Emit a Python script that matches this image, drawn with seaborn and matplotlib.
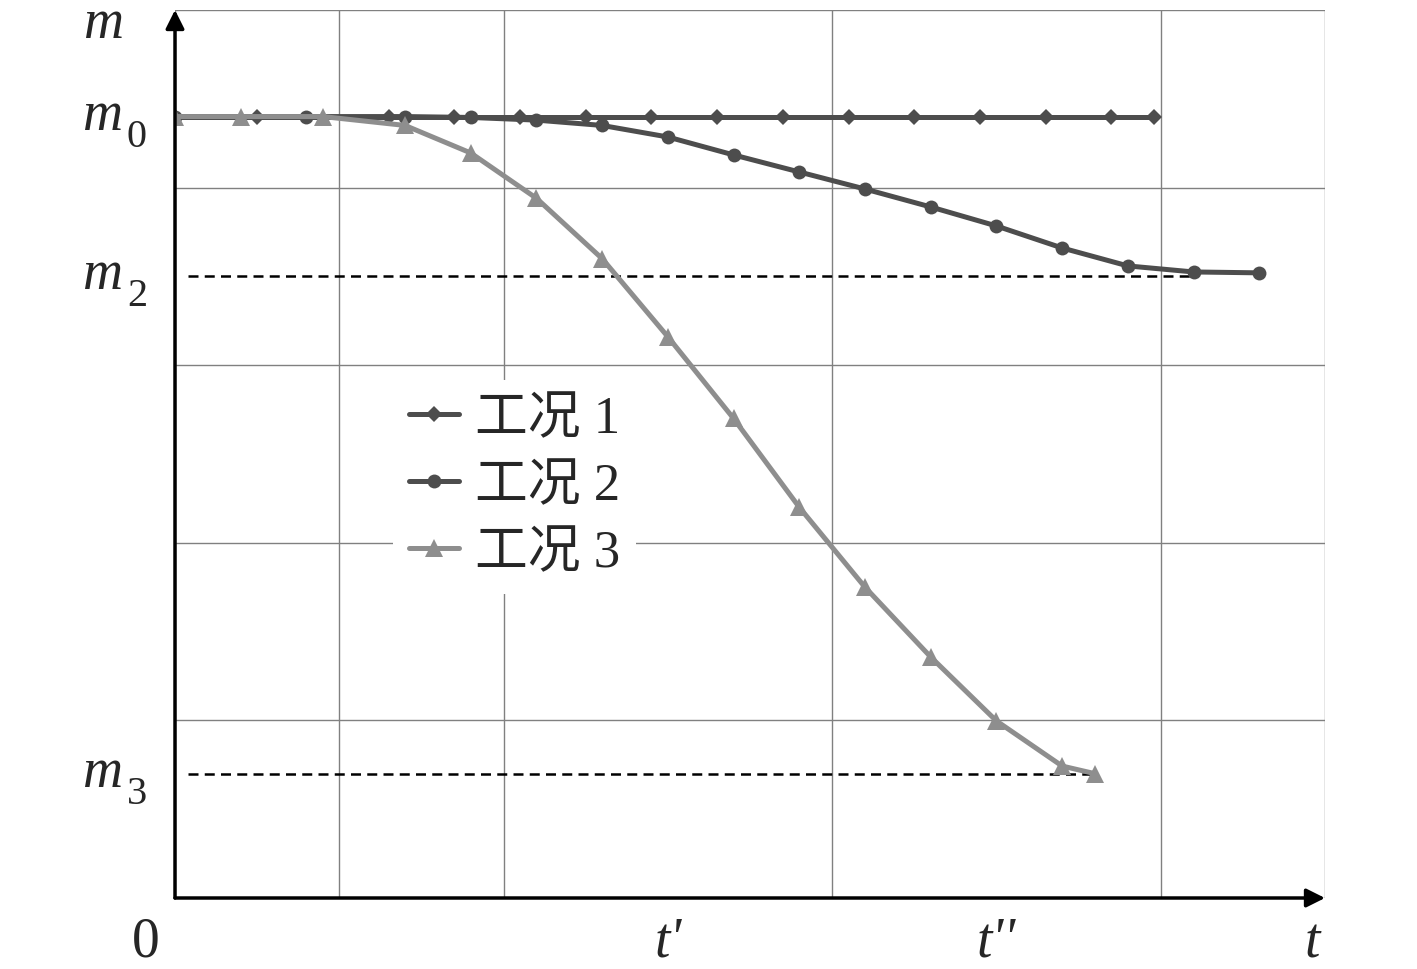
import matplotlib
matplotlib.use("Agg")
import matplotlib.pyplot as plt
import matplotlib.transforms as mtransforms
import seaborn as sns
import numpy as np

sns.set_theme(style="white")
plt.rcParams['font.family'] = ['Liberation Serif', 'Noto Sans CJK SC', 'DejaVu Sans']

# ---- data ----
labels = ["工况 1", "工况 2", "工况 3"]
x1 = [0, 0.5, 1.3, 1.7, 2.1, 2.5, 2.9, 3.3, 3.7, 4.1, 4.5, 4.9, 5.3, 5.7, 5.96]
y1 = [4.4] * len(x1)
x2 = [0, 0.8, 1.4, 1.8, 2.2, 2.6, 3.0, 3.4, 3.8, 4.2, 4.6, 5.0, 5.4, 5.8, 6.2, 6.6]
y2 = [4.4, 4.4, 4.4, 4.395, 4.38, 4.35, 4.285, 4.184, 4.088, 3.992, 3.891, 3.784, 3.66, 3.559, 3.525, 3.52]
x3 = [0, 0.4, 0.9, 1.4, 1.8, 2.2, 2.6, 3.0, 3.4, 3.8, 4.2, 4.6, 5.0, 5.4, 5.6]
y3 = [4.4, 4.4, 4.4, 4.35, 4.195, 3.94, 3.60, 3.16, 2.70, 2.20, 1.75, 1.357, 0.997, 0.743, 0.7]
m_levels = [4.4, 3.5, 0.7]
m_subs = ["0", "2", "3"]
dash_levels = [3.5, 0.7]
dash_ends = [6.2, 5.6]
t_ticks = [3, 5]
t_labels = ["t'", "t''"]

fig = plt.figure(figsize=(14.17, 9.69), dpi=100)
ax = fig.add_axes([175/1417, 71/969, 1150/1417, 888/969])

dark = "#4d4d4d"
light = "#8e8e8e"
sns.lineplot(x=x1, y=y1, ax=ax, color=dark, lw=3.6, marker="D", markersize=8.5,
             markeredgewidth=0, label=labels[0], zorder=3)
sns.lineplot(x=x2, y=y2, ax=ax, color=dark, lw=3.6, marker="o", markersize=10,
             markeredgewidth=0, label=labels[1], zorder=4)
sns.lineplot(x=x3, y=y3, ax=ax, color=light, lw=3.6, marker="^", markersize=13,
             markeredgewidth=0, label=labels[2], zorder=5)

for lvl, xe in zip(dash_levels, dash_ends):
    ax.hlines(lvl, 0.08, xe, colors="black", linestyles=(0, (4, 2.5)), lw=1.8, zorder=2)

ax.set_xlim(0, 7)
ax.set_ylim(0, 5)
ax.set_xticks(np.arange(0, 8), minor=True)
ax.set_yticks(np.arange(0, 6), minor=True)
ax.grid(which="minor", color="#808080", lw=1.0)
ax.grid(which="major", visible=False)
for t in ax.xaxis.get_minor_ticks() + ax.yaxis.get_minor_ticks():
    t.gridline.set_clip_on(False)
ax.set_yticks([])
ax.set_xticks(t_ticks)
ax.set_xticklabels(t_labels, fontsize=40, style="italic")
ax.tick_params(axis="both", which="both", length=0)
ax.tick_params(axis="x", pad=13)
for s in ax.spines.values():
    s.set_visible(False)

# y labels m_0, m_2, m_3 (italic m with lowered upright subscript)
ytr = ax.get_yaxis_transform()
for lvl, sub in zip(m_levels, m_subs):
    tr_m = mtransforms.offset_copy(ytr, fig=fig, x=0, y=-13, units="dots")
    ax.text(-52/1150, lvl, "m", fontsize=40, style="italic", ha="right", va="baseline",
            transform=tr_m, clip_on=False)
    tr_s = mtransforms.offset_copy(ytr, fig=fig, x=0, y=-30, units="dots")
    ax.text(-48/1150, lvl, sub, fontsize=29, ha="left", va="baseline",
            transform=tr_s, clip_on=False)

# axes arrows
ax.annotate("", xy=(0, 5), xytext=(0, 0), xycoords="data",
            arrowprops=dict(arrowstyle="-|>", lw=2.5, color="black", mutation_scale=28,
                            shrinkA=0, shrinkB=0), annotation_clip=False, zorder=6)
ax.annotate("", xy=(7, 0), xytext=(0, 0), xycoords="data",
            arrowprops=dict(arrowstyle="-|>", lw=2.5, color="black", mutation_scale=28,
                            shrinkA=0, shrinkB=0), annotation_clip=False, zorder=6)

ax.text(-0.43, 4.842, "m", fontsize=40, style="italic", ha="center", va="baseline", clip_on=False)
ax.text(-0.18, -0.25, "0", fontsize=40, ha="center", va="center", clip_on=False)
ax.text(6.92, -0.255, "t", fontsize=40, style="italic", ha="center", va="center", clip_on=False)

leg = ax.legend(loc="upper left", bbox_to_anchor=(0.167, 0.613), fontsize=38,
                frameon=True, facecolor="white", edgecolor="none", framealpha=1,
                handlelength=0.95, handletextpad=0.3, labelspacing=0.36,
                borderpad=0.3, fancybox=False)
leg.set_zorder(7)

fig.savefig("out.png", dpi=100)
